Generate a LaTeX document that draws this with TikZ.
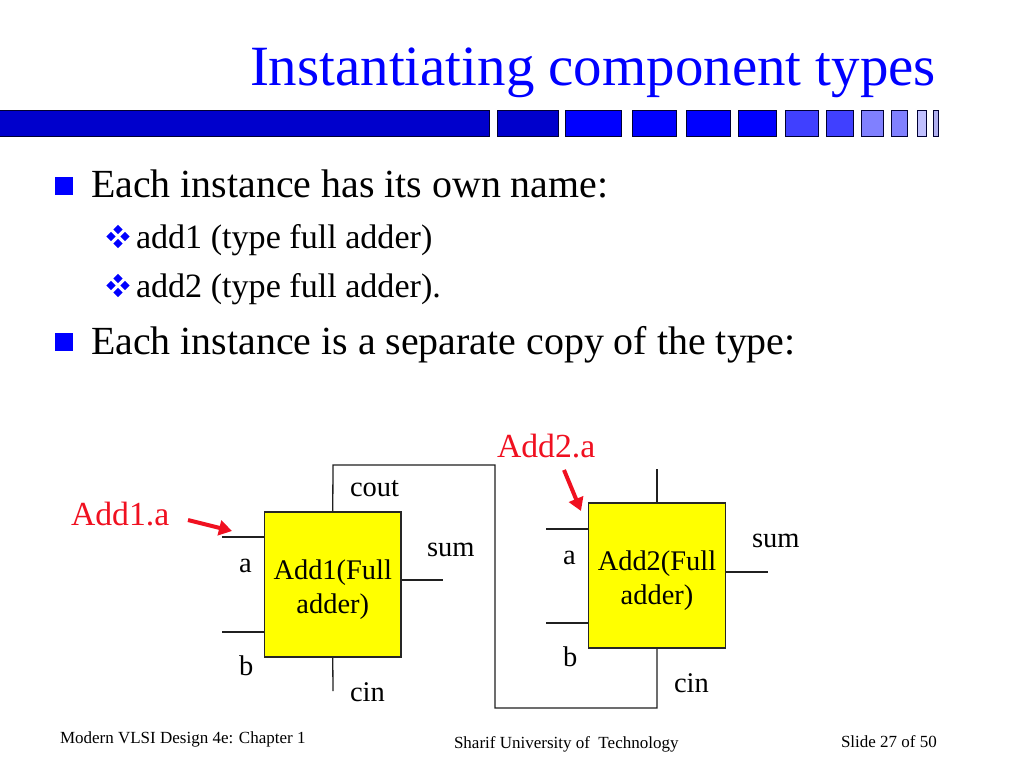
\documentclass[tikz,border=0pt]{standalone}
\usepackage{fontspec}
\setmainfont{Liberation Serif}
\usetikzlibrary{arrows.meta}
\definecolor{barA}{HTML}{0000CC}
\definecolor{barB}{HTML}{0000FF}
\definecolor{barC}{HTML}{4040FF}
\definecolor{barD}{HTML}{8080FF}
\definecolor{barE}{HTML}{C0C0FF}
\definecolor{barF}{HTML}{B0B0F0}
\definecolor{labred}{HTML}{F01020}
\definecolor{wire}{HTML}{202020}
\definecolor{addfill}{HTML}{FFFF00}
\tikzset{
  x=1pt,y=-1pt,
  txt/.style={anchor=base west,inner sep=0pt,outer sep=0pt,text=black},
  titletxt/.style={txt,text=barB,font=\fontsize{56.9}{60}\selectfont},
  bodytxt/.style={txt,font=\fontsize{39.9}{44}\selectfont},
  subtxt/.style={txt,font=\fontsize{34.1}{38}\selectfont},
  lab/.style={txt,font=\fontsize{28.5}{32}\selectfont},
  redlab/.style={txt,text=labred,font=\fontsize{33.7}{38}\selectfont},
  foot/.style={txt,font=\fontsize{17}{19}\selectfont},
  adder/.style={draw=black!85,line width=1.2pt,fill=addfill,minimum width=136.5pt,minimum height=145pt,inner sep=0pt,align=center,font=\fontsize{28.4}{34.5}\selectfont},
  wireline/.style={draw=wire,line width=1.3pt},
  redarrow/.style={draw=labred,line width=4pt,-{Triangle[length=13pt,width=15pt]}},
  barseg/.style={draw=black!80!blue,line width=1pt},
  bul/.style={fill=barB,draw=none}
}
\newcommand{\barpiece}[3]{\filldraw[barseg,fill=#3] (#1,110.5) rectangle (#2,136.5);}
\newcommand{\fourdiam}[2]{%
  \foreach \dx/\dy in {0/-7,0/7,-7/0,7/0}
    \fill[bul] (#1+\dx-4.6,#2+\dy) -- (#1+\dx,#2+\dy-4.6) -- (#1+\dx+4.6,#2+\dy) -- (#1+\dx,#2+\dy+4.6) -- cycle;}
\begin{document}
\begin{tikzpicture}
\useasboundingbox (0,0) rectangle (1024,768);
\fill[white] (0,0) rectangle (1024,768);
\node[titletxt] (title) at (250,85) {Instantiating component types};
\barpiece{-1}{489}{barA}
\barpiece{497}{558}{barA}
\barpiece{565.5}{621}{barB}
\barpiece{632}{676}{barB}
\barpiece{686}{730}{barB}
\barpiece{738.5}{776}{barB}
\barpiece{785}{818}{barC}
\barpiece{826.5}{853}{barC}
\barpiece{861.5}{883}{barD}
\barpiece{891.5}{907}{barD}
\barpiece{917}{926}{barE}
\barpiece{933.5}{938}{barF}
\fill[bul] (55,177) rectangle (73,195);
\node[bodytxt] (b1) at (91,197) {Each instance has its own name:};
\fourdiam{118}{236.5}
\node[subtxt] (s1) at (136,248) {add1 (type full adder)};
\fourdiam{118}{285.5}
\node[subtxt] (s2) at (136,297) {add2 (type full adder).};
\fill[bul] (55,333) rectangle (73,351);
\node[bodytxt] (b2) at (91,354) {Each instance is a separate copy of the type:};

\node[adder] (add1) at (332.75,584.5) {\rule{0pt}{30pt}Add1(Full\\adder)};
\node[adder] (add2) at (657,575.5) {\rule{0pt}{30pt}Add2(Full\\adder)};

\coordinate (a1end) at (222,537);
\coordinate (b1end) at (222,632);
\coordinate (sum1end) at (443,580);
\coordinate (cin1end) at (333,691);
\coordinate (a2end) at (546,529);
\coordinate (b2end) at (546,623);
\coordinate (sum2end) at (768,572);
\coordinate (top2end) at (657,469);
\coordinate (c1) at (333,465);
\coordinate (c2) at (495,465);
\coordinate (c3) at (495,708);
\coordinate (c4) at (657,708);
\draw[wireline] (a1end) -- (a1end -| add1.west);
\draw[wireline] (b1end) -- (b1end -| add1.west);
\draw[wireline] (add1.east |- sum1end) -- (sum1end);
\draw[wireline] (add1.south) -- (cin1end);
\draw[wireline] (add1.north) -- (c1) -- (c2) -- (c3) -- (c4) -- (add2.south);
\draw[wireline] (a2end) -- (a2end -| add2.west);
\draw[wireline] (b2end) -- (b2end -| add2.west);
\draw[wireline] (add2.east |- sum2end) -- (sum2end);
\draw[wireline] (add2.north) -- (top2end);

\node[lab] (cout) at (350,496) {cout};
\node[lab] (sum1) at (427,556) {sum};
\node[lab] (la1) at (239,572) {a};
\node[lab] (lb1) at (239,675) {b};
\node[lab] (cin1) at (350,701) {cin};
\node[lab] (sum2) at (752,547) {sum};
\node[lab] (la2) at (563,564) {a};
\node[lab] (lb2) at (563,666) {b};
\node[lab] (cin2) at (674,692) {cin};

\node[redlab] (r1) at (71,525) {Add1.a};
\node[redlab] (r2) at (497,457) {Add2.a};
\coordinate (r1s) at (188,520);
\coordinate (r1e) at (232,531);
\coordinate (r2s) at (564,470);
\coordinate (r2e) at (581,511);
\draw[redarrow] (r1s) -- (r1e);
\draw[redarrow] (r2s) -- (r2e);

\node[foot] (f1) at (60,743) {Modern VLSI Design 4e: Chapter 1};
\node[foot] (f2) at (454,748) {Sharif University of\ \ Technology};
\node[foot] (f3) at (841,747) {Slide 27 of 50};
\end{tikzpicture}
\end{document}
